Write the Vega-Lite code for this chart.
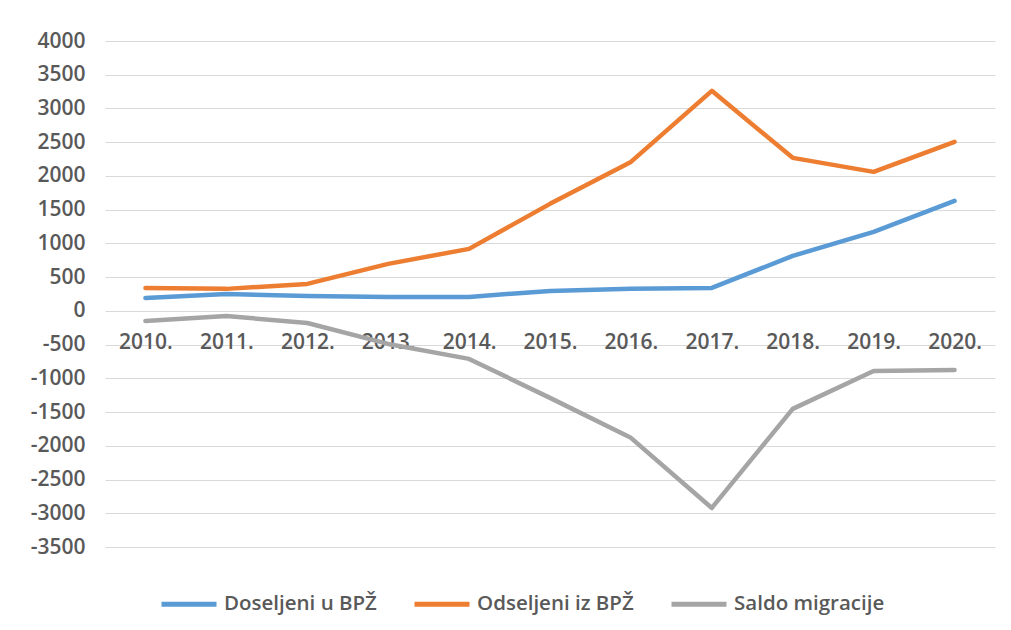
{
  "$schema": "https://vega.github.io/schema/vega-lite/v6.json",
  "width": 890,
  "height": 506,
  "autosize": {"type": "none"},
  "padding": {"left": 105, "top": 41, "right": 16, "bottom": 83},
  "background": "white",
  "config": {"view": {"stroke": null}},
  "data": {"values": [
    {"year": "2010.", "series": "Doseljeni u BPŽ", "value": 190},
    {"year": "2011.", "series": "Doseljeni u BPŽ", "value": 250},
    {"year": "2012.", "series": "Doseljeni u BPŽ", "value": 220},
    {"year": "2013.", "series": "Doseljeni u BPŽ", "value": 207},
    {"year": "2014.", "series": "Doseljeni u BPŽ", "value": 207},
    {"year": "2015.", "series": "Doseljeni u BPŽ", "value": 296},
    {"year": "2016.", "series": "Doseljeni u BPŽ", "value": 326},
    {"year": "2017.", "series": "Doseljeni u BPŽ", "value": 340},
    {"year": "2018.", "series": "Doseljeni u BPŽ", "value": 815},
    {"year": "2019.", "series": "Doseljeni u BPŽ", "value": 1170},
    {"year": "2020.", "series": "Doseljeni u BPŽ", "value": 1630},
    {"year": "2010.", "series": "Odseljeni iz BPŽ", "value": 340},
    {"year": "2011.", "series": "Odseljeni iz BPŽ", "value": 326},
    {"year": "2012.", "series": "Odseljeni iz BPŽ", "value": 400},
    {"year": "2013.", "series": "Odseljeni iz BPŽ", "value": 697},
    {"year": "2014.", "series": "Odseljeni iz BPŽ", "value": 919},
    {"year": "2015.", "series": "Odseljeni iz BPŽ", "value": 1586},
    {"year": "2016.", "series": "Odseljeni iz BPŽ", "value": 2208},
    {"year": "2017.", "series": "Odseljeni iz BPŽ", "value": 3261},
    {"year": "2018.", "series": "Odseljeni iz BPŽ", "value": 2268},
    {"year": "2019.", "series": "Odseljeni iz BPŽ", "value": 2060},
    {"year": "2020.", "series": "Odseljeni iz BPŽ", "value": 2505},
    {"year": "2010.", "series": "Saldo migracije", "value": -150},
    {"year": "2011.", "series": "Saldo migracije", "value": -76},
    {"year": "2012.", "series": "Saldo migracije", "value": -180},
    {"year": "2013.", "series": "Saldo migracije", "value": -490},
    {"year": "2014.", "series": "Saldo migracije", "value": -712},
    {"year": "2015.", "series": "Saldo migracije", "value": -1290},
    {"year": "2016.", "series": "Saldo migracije", "value": -1882},
    {"year": "2017.", "series": "Saldo migracije", "value": -2921},
    {"year": "2018.", "series": "Saldo migracije", "value": -1453},
    {"year": "2019.", "series": "Saldo migracije", "value": -890},
    {"year": "2020.", "series": "Saldo migracije", "value": -875}
  ]},
  "mark": {"type": "line", "strokeWidth": 4.5, "strokeCap": "round", "strokeJoin": "round"},
  "encoding": {
    "x": {
      "field": "year", "type": "ordinal", "sort": null,
      "scale": {"type": "point", "padding": 0.5},
      "axis": {
        "title": null, "orient": "bottom", "offset": -236, "domain": false, "ticks": false,
        "grid": false, "labelAngle": 0, "labelPadding": 20,
        "labelFont": "Open Sans", "labelFontSize": 21, "labelFontWeight": 600, "labelColor": "#595959"
      }
    },
    "y": {
      "field": "value", "type": "quantitative",
      "scale": {"domain": [-3500, 4000], "nice": false, "zero": false},
      "axis": {
        "title": null, "values": [-3500, -3000, -2500, -2000, -1500, -1000, -500, 0, 500, 1000, 1500, 2000, 2500, 3000, 3500, 4000],
        "domain": false, "ticks": false, "labelPadding": 20, "labelExpr": "'' + datum.value",
        "gridColor": "#D9D9D9", "gridWidth": 1.2,
        "labelFont": "Open Sans", "labelFontSize": 21, "labelFontWeight": 600, "labelColor": "#595959"
      }
    },
    "color": {
      "field": "series", "type": "nominal",
      "scale": {"domain": ["Doseljeni u BPŽ", "Odseljeni iz BPŽ", "Saldo migracije"], "range": ["#5B9BD5", "#ED7D31", "#A5A5A5"]},
      "legend": {
        "title": null, "orient": "none", "direction": "horizontal", "legendX": 54, "legendY": 533,
        "symbolType": "stroke", "symbolSize": 3025, "symbolStrokeWidth": 5,
        "labelFont": "Open Sans", "labelFontSize": 20.5, "labelFontWeight": 600, "labelColor": "#595959",
        "labelOffset": 5, "columnPadding": 27, "labelLimit": 300
      }
    }
  }
}
